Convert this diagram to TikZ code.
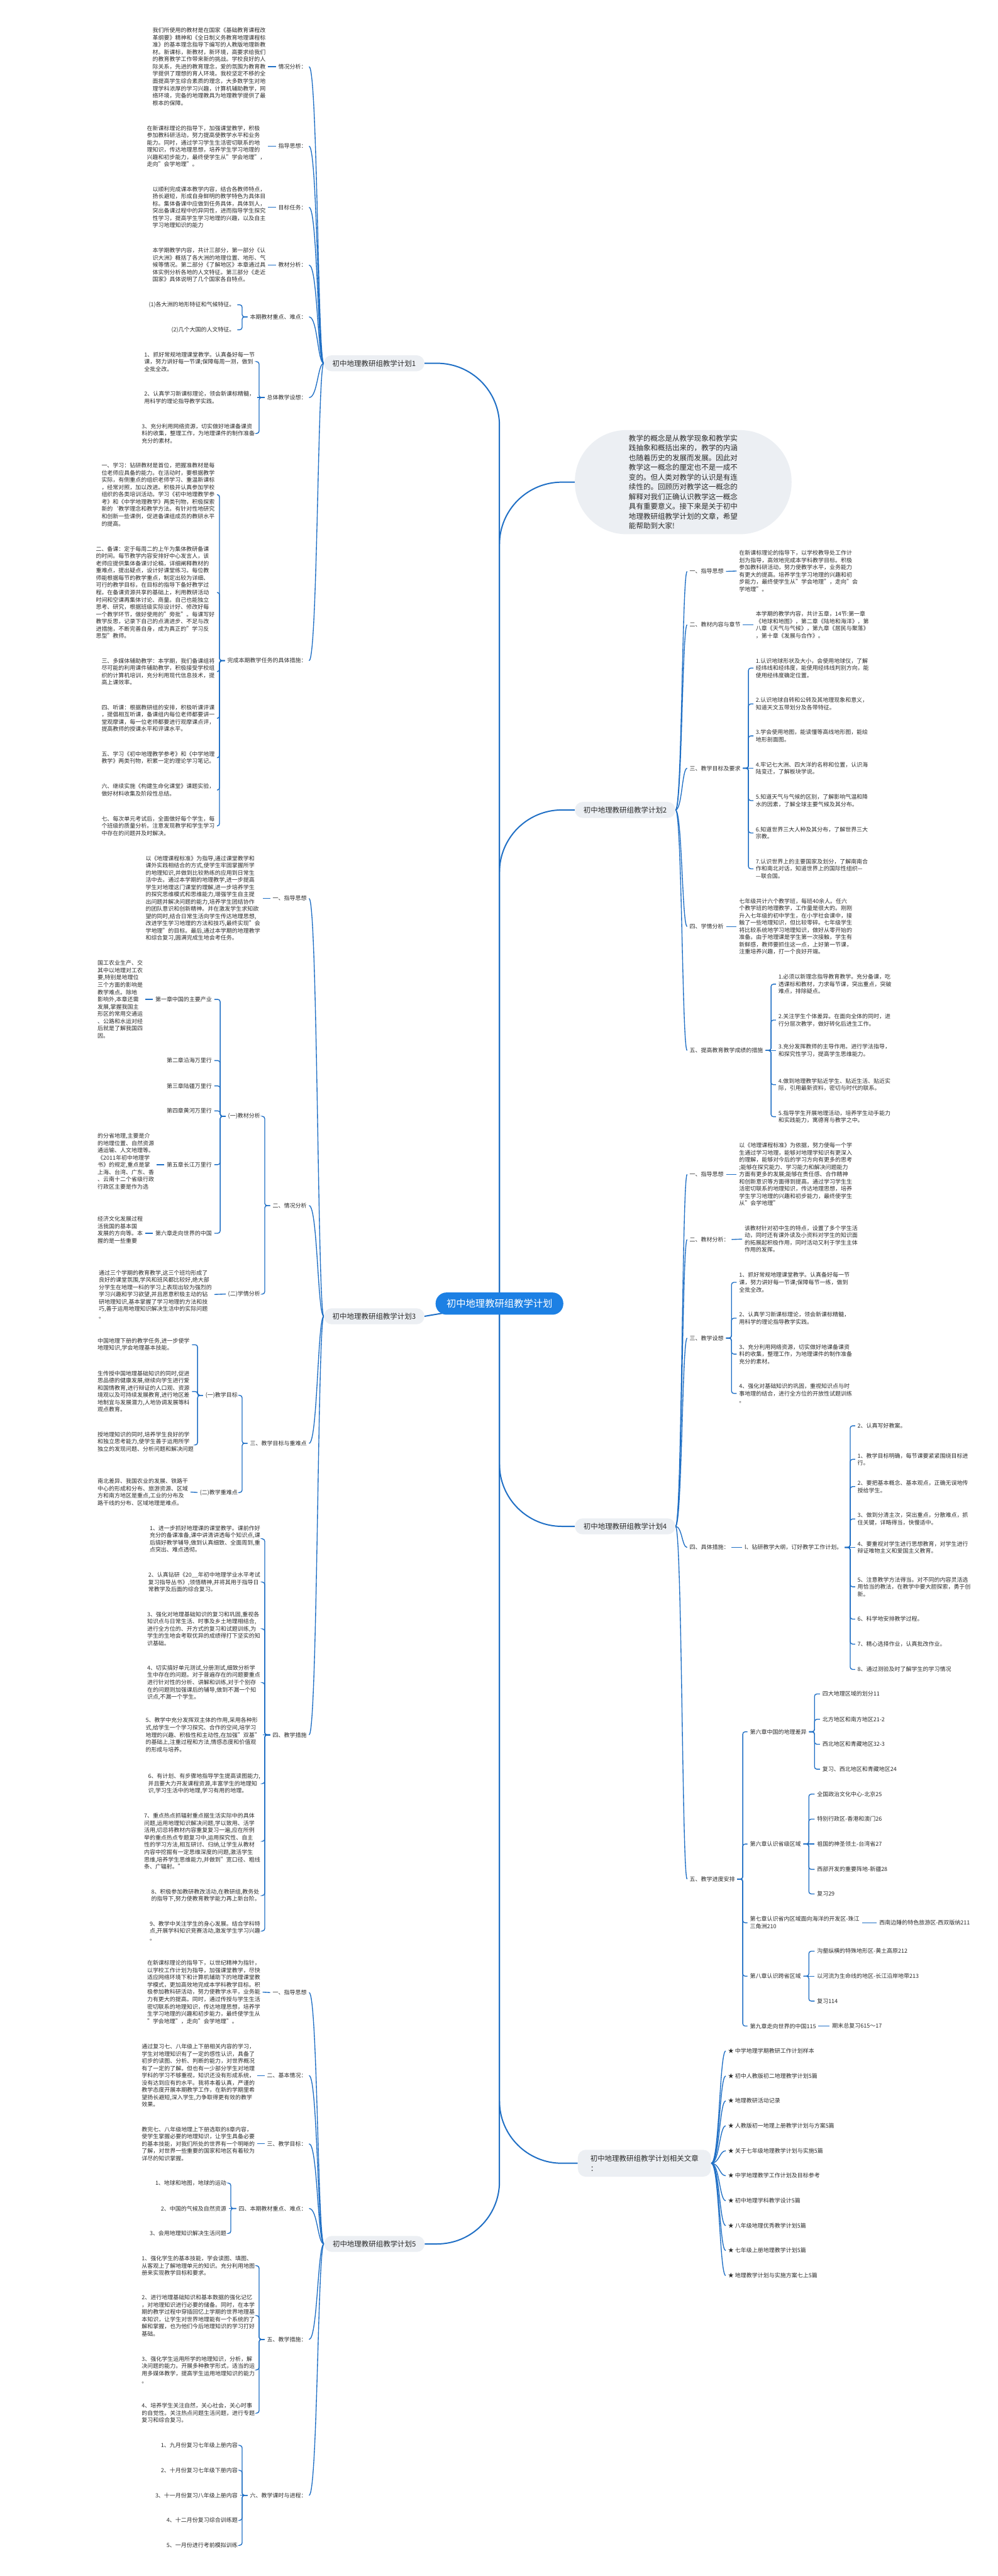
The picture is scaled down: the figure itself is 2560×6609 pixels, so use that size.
\documentclass[tikz,border=0pt]{standalone}
\usepackage{fontspec}
\setmainfont{Noto Sans CJK SC}
\usetikzlibrary{backgrounds}
\definecolor{linec}{HTML}{1F6FC5}
\definecolor{ctrc}{HTML}{1C80E4}
\definecolor{nodebg}{HTML}{ECEFF3}
\definecolor{txtc}{HTML}{2B2B2B}
\newcommand\ftxt{\fontsize{7.25pt}{9.3pt}\selectfont}
\newcommand\fbr{\fontsize{9.25pt}{12.3pt}\selectfont}
\newcommand\fctr{\fontsize{12.35pt}{14pt}\selectfont}
\newcommand\fbub{\fontsize{9.3pt}{12.5pt}\selectfont}
\tikzset{
  txt/.style={align=left, inner xsep=3pt, inner ysep=1pt, font=\ftxt, text=txtc},
  brn/.style={fill=nodebg, text=txtc, font=\fbr, rounded corners=10pt, minimum height=20.5pt, inner xsep=11pt},
  rootn/.style={fill=ctrc, text=white, font=\fctr, rounded corners=14pt, minimum height=28.5pt, inner xsep=14pt, inner ysep=2pt},
  bubn/.style={fill=nodebg, text=txtc, font=\fbub, align=left, rounded corners=66pt, minimum width=278pt, minimum height=133.5pt},
  conn/.style={draw=linec, line width=1.1pt},
  brk/.style={draw=linec, line width=1.1pt, rounded corners=3pt},
  mainc/.style={draw=linec, line width=1.6pt, rounded corners=80pt}
}
\begin{document}
\begin{tikzpicture}[x=0.5pt,y=-0.5pt]
\useasboundingbox (0,0) rectangle (2560,6609);
% ---------------- root and summary
\node[rootn] (root) at (1281.5,3344.5) {初中地理教研组教学计划};
\node[bubn] (bub) at (1753,1237) {教学的概念是从教学现象和教学实\\践抽象和概括出来的，教学的内涵\\也随着历史的发展而发展。因此对\\教学这一概念的厘定也不是一成不\\变的。但人类对教学的认识是有连\\续性的。回顾历对教学这一概念的\\解释对我们正确认识教学这一概念\\具有重要意义。接下来是关于初中\\地理教研组教学计划的文章，希望\\能帮助到大家!};
% ---------------- branch 1
\node[brn] (b1) at (960,932) {初中地理教研组教学计划1};
\coordinate (t1) at (815,932);
\node[txt,anchor=east] (a1) at (793,171) {情况分析：};
\node[txt,anchor=east] (a1t) at (688,171) {我们所使用的教材是在国家《基础教育课程改\\革纲要》精神和《全日制义务教育地理课程标\\准》的基本理念指导下编写的人教版地理新教\\材。新课标，新教材，新环境，高要求给我们\\的教育教学工作带来新的挑战。学校良好的人\\际关系，先进的教育理念，爱的氛围为教育教\\学提供了理想的育人环境。我校坚定不移的全\\面提高学生综合素质的理念，大多数学生对地\\理学科浓厚的学习兴趣，计算机辅助教学，网\\络环境，完备的地理教具为地理教学提供了最\\根本的保障。};
\node[txt,anchor=east] (a2) at (793,375) {指导思想：};
\node[txt,anchor=east] (a2t) at (688,375) {在新课标理论的指导下，加强课堂教学，积极\\参加教科研活动，努力提高使教学水平和业务\\能力。同时，通过学习学生生活密切联系的地\\理知识，传达地理思想，培养学生学习地理的\\兴趣和初步能力，最终使学生从"学会地理"，\\走向"会学地理"。};
\node[txt,anchor=east] (a3) at (793,532) {目标任务：};
\node[txt,anchor=east] (a3t) at (688,532) {以顺利完成课本教学内容，结合各教师特点，\\扬长避短，形成自身鲜明的教学特色为具体目\\标。集体备课中应做到任务具体，具体到人，\\突出备课过程中的异同性，进而指导学生探究\\性学习，提高学生学习地理的兴趣，以及自主\\学习地理知识的能力};
\node[txt,anchor=east] (a4) at (793,680) {教材分析：};
\node[txt,anchor=east] (a4t) at (688,680) {本学期教学内容，共计三部分，第一部分《认\\识大洲》概括了各大洲的地理位置、地形、气\\候等情况。第二部分《了解地区》本章通过具\\体实例分析各地的人文特征。第三部分《走近\\国家》具体说明了几个国家各自特点。};
\node[txt,anchor=east] (a5) at (793,813) {本期教材重点、难点：};
\node[txt,anchor=east] (a5a) at (609,782) {(1)各大洲的地形特征和气候特征。};
\node[txt,anchor=east] (a5b) at (609,846) {(2)几个大国的人文特征。};
\node[txt,anchor=east] (a6) at (793,1020) {总体教学设想：};
\node[txt,anchor=east] (a6a) at (660,928) {1、抓好常规地理课堂教学。认真备好每一节\\课，努力讲好每一节课;保障每周一测，做到\\全批全改。};
\node[txt,anchor=east] (a6b) at (660,1020) {2、认真学习新课标理论，领会新课标精髓，\\用科学的理论指导教学实践。};
\node[txt,anchor=east] (a6c) at (660,1112) {3、充分利用网络资源，切实做好地课备课资\\料的收集，整理工作，为地理课件的制作准备\\充分的素材。};
\node[txt,anchor=east] (a7) at (793,1695) {完成本期教学任务的具体措施：};
\node[txt,anchor=east] (a7a) at (557,1269) {一、学习：钻研教材是首位，把握准教材是每\\位老师应具备的能力。在活动时，要根据教学\\实际，有侧重点的组织老师学习、重温新课标\\，经常对照，加以改进。积极并认真参加学校\\组织的各类培训活动。学习《初中地理教学参\\考》和《中学地理教学》两类刊物，积极探索\\新的`教学理念和教学方法。有针对性地研究\\和创新一些课例，促进备课组成员的教研水平\\的提高。};
\node[txt,anchor=east] (a7b) at (557,1520) {二、备课：定于每周二的上午为集体教研备课\\的时间。每节教学内容安排好中心发言人，该\\老师应提供集体备课讨论稿，详细阐释教材的\\重难点，提出疑点，设计好课堂练习。每位教\\师能根据每节的教学重点，制定出较为详细、\\可行的教学目标，在目标的指导下备好教学过\\程。在备课资源共享的基础上，利用教研活动\\时间和空课再集体讨论、商量。自己也能独立\\思考、研究，根据班级实际设计好、修改好每\\一个教学环节，做好使用的"旁批"。每课写好\\教学反思，记录下自己的点滴进步、不足与改\\进措施，不断完善自身，成为真正的"学习反\\思型"教师。};
\node[txt,anchor=east] (a7c) at (557,1723) {三、多媒体辅助教学：本学期，我们备课组将\\尽可能的利用课件辅助教学，积极接受学校组\\织的计算机培训，充分利用现代信息技术，提\\高上课效率。};
\node[txt,anchor=east] (a7d) at (557,1843) {四、听课：根据教研组的安排，积极听课评课\\，提倡相互听课，备课组内每位老师都要讲一\\堂观摩课，每一位老师都要进行观摩课点评，\\提高教师的授课水平和评课水平。};
\node[txt,anchor=east] (a7e) at (557,1944) {五、学习《初中地理教学参考》和《中学地理\\教学》两类刊物，积累一定的理论学习笔记。};
\node[txt,anchor=east] (a7f) at (557,2027) {六、继续实施《构建生命化课堂》课题实验，\\做好材料收集及阶段性总结。};
\node[txt,anchor=east] (a7g) at (557,2119) {七、每次单元考试后，全面做好每个学生，每\\个班级的质量分析。注意发现教学和学生学习\\中存在的问题并及时解决。};
% ---------------- branch 3
\node[brn] (b3) at (960,3377) {初中地理教研组教学计划3};
\coordinate (t3) at (815,3377);
\node[txt,anchor=east] (g1) at (793,2305) {一、指导思想};
\node[txt,anchor=east] (g1t) at (674,2305) {以《地理课程标准》为指导,通过课堂教学和\\课外实践相结合的方式,使学生牢固掌握所学\\的地理知识,并做到比较熟练的应用到日常生\\活中去。通过本学期的地理教学,进一步提高\\学生对地理这门课堂的理解,进一步培养学生\\的探究思维模式和思维能力,增强学生自主提\\出问题并解决问题的能力,培养学生团结协作\\的团队意识和创新精神。并在激发学生求知欲\\望的同时,结合日常生活向学生传达地理思想,\\改进学生学习地理的方法和技巧,最终实现"会\\学地理"的目标。最后,通过本学期的地理教学\\和综合复习,圆满完成生地会考任务。};
\node[txt,anchor=east] (g2) at (793,3093) {二、情况分析};
\node[txt,anchor=east] (g2a) at (674,2864) {(一)教材分析};
\node[txt,anchor=east] (g2a1) at (550,2564) {第一章中国的主要产业};
\node[txt,anchor=west] (g2a1t) at (244,2564) {国工农业生产、交\\其中以地理对工农\\要,特别是地理位\\三个方面的影响是\\教学难点。除地\\影响外,本章还需\\发展,掌握我国主\\形区的常用交通运\\、公路和水运对经\\后就是了解我国四\\因。};
\node[txt,anchor=east] (g2a2) at (550,2721) {第二章沿海万里行};
\node[txt,anchor=east] (g2a3) at (550,2786) {第三章陆疆万里行};
\node[txt,anchor=east] (g2a4) at (550,2850) {第四章黄河万里行};
\node[txt,anchor=east] (g2a5) at (550,2988) {第五章长江万里行};
\node[txt,anchor=west] (g2a5t) at (244,2988) {的分省地理,主要是介\\的地理位置、自然资源\\通运输、人文地理等。\\《2011年初中地理学\\书》的规定,重点是掌\\上海、台湾、广东、香\\、云南十二个省级行政\\行政区主要是作为选\\};
\node[txt,anchor=east] (g2a6) at (550,3164) {第六章走向世界的中国};
\node[txt,anchor=west] (g2a6t) at (244,3164) {经济文化发展过程\\活我国的基本国\\发展的方向等。本\\握的是一些重要\\};
\node[txt,anchor=east] (g2b) at (674,3320) {(二)学情分析};
\node[txt,anchor=east] (g2bt) at (550,3321) {通过三个学期的教育教学,这三个班均形成了\\良好的课堂氛围,学风和班风都比较好,绝大部\\分学生在地理一科的学习上表现出较为强烈的\\学习兴趣和学习欲望,并且愿意积极主动的钻\\研地理知识,基本掌握了学习地理的方法和技\\巧,善于运用地理知识解决生活中的实际问题\\。};
\node[txt,anchor=east] (g3) at (793,3703) {三、教学目标与重难点};
\node[txt,anchor=east] (g3a) at (616,3580) {(一)教学目标};
\node[txt,anchor=west] (g3a1) at (244,3450) {中国地理下册的教学任务,进一步使学\\地理知识,学会地理基本技能。};
\node[txt,anchor=west] (g3a2) at (244,3570) {生传授中国地理基础知识的同时,促进\\思品德的健康发展,继续向学生进行爱\\和国情教育,进行辩证的人口观、资源\\境观以及可持续发展教育,进行地区差\\地制宜与发展潜力,人地协调发展等科\\观点教育。};
\node[txt,anchor=west] (g3a3) at (244,3707) {授地理知识的同时,培养学生良好的学\\和独立思考能力,使学生善于运用所学\\独立的发现问题、分析问题和解决问题\\};
\node[txt,anchor=east] (g3b) at (616,3829) {(二)教学重难点};
\node[txt,anchor=west] (g3bt) at (244,3828) {南北差异、我国农业的发展、铁路干\\中心的形成和分布、旅游资源、区域\\方和南方地区是重点,工业的分布及\\路干线的分布、区域地理是难点。};
\node[txt,anchor=east] (g4) at (793,4451) {四、教学措施};
\node[txt,anchor=east] (g4a) at (674,3948) {1、进一步抓好地理课的课堂教学。课前作好\\充分的备课准备,课中讲清讲透每个知识点,课\\后搞好教学辅导,做到认真细致、全面周到,重\\点突出、难点透彻。};
\node[txt,anchor=east] (g4b) at (674,4059) {2、认真钻研《20\_\_年初中地理学业水平考试\\复习指导丛书》,领悟精神,并将其用于指导日\\常教学及后面的综合复习。};
\node[txt,anchor=east] (g4c) at (674,4179) {3、强化对地理基础知识的复习和巩固,重视各\\知识点与日常生活、时事及乡土地理相结合,\\进行全方位的、开方式的复习和试题训练,为\\学生的生地会考取优异的成绩得打下坚实的知\\识基础。};
\node[txt,anchor=east] (g4d) at (674,4317) {4、切实搞好单元测试,分册测试,细致分析学\\生中存在的问题。对于普遍存在的问题要重点\\进行针对性的分析、讲解和训练,对于个别存\\在的问题则加强课后的辅导,做到不漏一个知\\识点,不漏一个学生。};
\node[txt,anchor=east] (g4e) at (674,4451) {5、教学中充分发挥双主体的作用,采用各种形\\式,给学生一个学习探究、合作的空间,培学习\\地理的兴趣、积极性和主动性,在加强"双基"\\的基础上,注重过程和方法,情感态度和价值观\\的形成与培养。};
\node[txt,anchor=east] (g4f) at (674,4576) {6、有计划、有步骤地指导学生提高读图能力,\\并且要大力开发课程资源,丰富学生的地理知\\识,学习生活中的地理,学习有用的地理。};
\node[txt,anchor=east] (g4g) at (674,4724) {7、重点热点抓辐射重点据生活实际中的具体\\问题,运用地理知识解决问题,学以致用、活学\\活用,切忌将教材内容重复复习一遍,应在所例\\举的重点热点专题复习中,运用探究性、自主\\性的学习方法,相互研讨、归纳,让学生从教材\\内容中挖掘有一定思维深度的问题,激活学生\\思维,培养学生思维能力,并做到"宽口径、粗线\\条、广辐射。"};
\node[txt,anchor=east] (g4h) at (674,4863) {8、积极参加教研教改活动,在教研组,教务处\\的指导下,努力使教育教学能力再上新台阶。};
\node[txt,anchor=east] (g4i) at (674,4954) {9、教学中关注学生的身心发展。结合学科特\\点,开展学科知识竞赛活动,激发学生学习兴趣\\。};
% ---------------- branch 5
\node[brn] (b5) at (960.5,5757) {初中地理教研组教学计划5};
\coordinate (t5) at (815,5757);
\node[txt,anchor=east] (h1) at (793,5112) {一、指导思想};
\node[txt,anchor=east] (h1t) at (674,5111) {在新课标理论的指导下，以世纪精神为指针，\\以学校工作计划为指导，加强课堂教学，尽快\\适应网络环境下和计算机辅助下的地理课堂教\\学模式，更加高效地完成本学科教学目标。积\\极参加教科研活动，努力使教学水平，业务能\\力有更大的提高。同时，通过传授与学生生活\\密切联系的地理知识，传达地理思想，培养学\\生学习地理的兴趣和初步能力，最终使学生从\\"学会地理"，走向"会学地理"。};
\node[txt,anchor=east] (h2) at (793,5325) {二、基本情况：};
\node[txt,anchor=east] (h2t) at (660,5325) {通过复习七、八年级上下册相关内容的学习，\\学生对地理知识有了一定的感性认识，具备了\\初步的读图、分析、判断的能力，对世界概况\\有了一定的了解。但也有一少部分学生对地理\\学科的学习不够重视，知识还没有形成系统，\\没有达到应有的水平。我将本着认真，严谨的\\教学态度开展本期教学工作，在新的学期里希\\望扬长避短,深入学生,力争取得更有效的教学\\效果。};
\node[txt,anchor=east] (h3) at (793,5500) {三、教学目标：};
\node[txt,anchor=east] (h3t) at (660,5500) {教完七、八年级地理上下册选取的8章内容，\\使学生掌握必要的地理知识，让学生具备必要\\的基本技能，对我们所处的世界有一个明晰的\\了解，对世界一些重要的国家和地区有着较为\\详尽的知识掌握。};
\node[txt,anchor=east] (h4) at (793,5666) {四、本期教材重点、难点：};
\node[txt,anchor=east] (h4a) at (587,5601) {1、地球和地图，地球的运动};
\node[txt,anchor=east] (h4b) at (587,5666) {2、中国的气候及自然资源};
\node[txt,anchor=east] (h4c) at (587,5730) {3、会用地理知识解决生活问题};
\node[txt,anchor=east] (h5) at (793,6002) {五、教学措施：};
\node[txt,anchor=east] (h5a) at (660,5813) {1、强化学生的基本技能，学会读图、填图、\\从客观上了解地理单元的知识。充分利用地图\\册来实现教学目标和要求。};
\node[txt,anchor=east] (h5b) at (660,5941) {2、进行地理基础知识和基本数据的强化记忆\\，对地理知识进行必要的储备。同时，在本学\\期的教学过程中穿插回忆上学期的世界地理基\\本知识，让学生对世界地理能有一个系统的了\\解和掌握，也为他们今后地理知识的学习打好\\基础。};
\node[txt,anchor=east] (h5c) at (660,6080) {3、强化学生运用所学的地理知识，分析，解\\决问题的能力。开展多种教学形式，适当的运\\用多媒体教学，提高学生运用地理知识的能力\\。};
\node[txt,anchor=east] (h5d) at (660,6191) {4、培养学生关注自然，关心社会，关心时事\\的自觉性。关注热点问题生活问题，进行专题\\复习和综合复习。};
\node[txt,anchor=east] (h6) at (793,6402) {六、教学课时与进程：};
\node[txt,anchor=east] (h6a) at (616,6274) {1、九月份复习七年级上册内容};
\node[txt,anchor=east] (h6b) at (616,6338) {2、十月份复习七年级下册内容};
\node[txt,anchor=east] (h6c) at (616,6402) {3、十一月份复习八年级上册内容};
\node[txt,anchor=east] (h6d) at (616,6466) {4、十二月份复习综合训练题};
\node[txt,anchor=east] (h6e) at (616,6530) {5、一月份进行考前模拟训练};
% ---------------- branch 2
\node[brn] (b2) at (1604,2078) {初中地理教研组教学计划2};
\coordinate (t2) at (1750,2078);
\node[txt,anchor=west] (r1) at (1763,1466) {一、指导思想};
\node[txt,anchor=west] (r1t) at (1890,1465) {在新课标理论的指导下，以学校教导处工作计\\划为指导，高效地完成本学科教学目标。积极\\参加教科研活动，努力使教学水平，业务能力\\有更大的提高。培养学生学习地理的兴趣和初\\步能力，最终使学生从"学会地理"，走向"会\\学地理"。};
\node[txt,anchor=west] (r2) at (1763,1603) {二、教材内容与章节};
\node[txt,anchor=west] (r2t) at (1933,1603) {本学期的教学内容，共计五章，14节:第一章\\《地球和地图》，第二章《陆地和海洋》，第\\八章《天气与气候》，第九章《居民与聚落》\\，第十章《发展与合作》。};
\node[txt,anchor=west] (r3) at (1763,1971) {三、教学目标及要求};
\node[txt,anchor=west] (r3a) at (1933,1714) {1.认识地球形状及大小，会使用地球仪，了解\\经纬线和经纬度，能使用经纬线判别方向，能\\使用经纬度确定位置。};
\node[txt,anchor=west] (r3b) at (1933,1806) {2.认识地球自转和公转及其地理现象和意义，\\知道天文五带划分及各带特征。};
\node[txt,anchor=west] (r3c) at (1933,1888) {3.学会使用地图，能读懂等高线地形图，能绘\\地形剖面图。};
\node[txt,anchor=west] (r3d) at (1933,1971) {4.牢记七大洲、四大洋的名称和位置，认识海\\陆变迁，了解板块学说。};
\node[txt,anchor=west] (r3e) at (1933,2054) {5.知道天气与气候的区别，了解影响气温和降\\水的因素，了解全球主要气候及其分布。};
\node[txt,anchor=west] (r3f) at (1933,2137) {6.知道世界三大人种及其分布，了解世界三大\\宗教。};
\node[txt,anchor=west] (r3g) at (1933,2229) {7.认识世界上的主要国家及划分，了解南南合\\作和南北对话，知道世界上的国际性组织—\\—联合国。};
\node[txt,anchor=west] (r4) at (1763,2377) {四、学情分析};
\node[txt,anchor=west] (r4t) at (1890,2377) {七年级共计六个教学班，每班40余人。任六\\个教学班的地理教学，工作量是很大的。刚刚\\升入七年级的初中学生，在小学社会课中，接\\触了一些地理知识，但比较零碎。七年级学生\\将比较系统地学习地理知识，做好从零开始的\\准备。由于地理课是学生第一次接触，学生有\\新鲜感，教师要抓住这一点，上好第一节课，\\注重培养兴趣，打一个良好开端。};
\node[txt,anchor=west] (r5) at (1763,2695) {五、提高教育教学成绩的措施};
\node[txt,anchor=west] (r5a) at (1991,2525) {1.必须以新理念指导教育教学。充分备课，吃\\透课标和教材，力求每节课，突出重点，突破\\难点，排除疑点。};
\node[txt,anchor=west] (r5b) at (1991,2617) {2.关注学生个体差异。在面向全体的同时，进\\行分层次教学，做好转化后进生工作。};
\node[txt,anchor=west] (r5c) at (1991,2695) {3.充分发挥教师的主导作用。进行学法指导，\\和探究性学习，提高学生思维能力。};
\node[txt,anchor=west] (r5d) at (1991,2783) {4.做到地理教学贴近学生、贴近生活、贴近实\\际，引用最新资料，密切与时代的联系。};
\node[txt,anchor=west] (r5e) at (1991,2865) {5.指导学生开展地理活动，培养学生动手能力\\和实践能力，寓德育与教学之中。};
% ---------------- branch 4
\node[brn] (b4) at (1604,3916) {初中地理教研组教学计划4};
\coordinate (t4) at (1750,3916);
\node[txt,anchor=west] (s1) at (1763,3013) {一、指导思想};
\node[txt,anchor=west] (s1t) at (1890,3013) {以《地理课程标准》为依据，努力使每一个学\\生通过学习地理，能够对地理学知识有更深入\\的理解，能够对今后的学习方向有更多的思考\\;能够在探究能力、学习能力和解决问题能力\\方面有更多的发展;能够在责任感、合作精神\\和创新意识等方面得到提高。通过学习学生生\\活密切联系的地理知识，传达地理思想，培养\\学生学习地理的兴趣和初步能力，最终使学生\\从"会学地理"};
\node[txt,anchor=west] (s2) at (1763,3180) {二、教材分析：};
\node[txt,anchor=west] (s2t) at (1904,3179) {该教材针对初中生的特点，设置了多个学生活\\动，同时还有课外读及小资料对学生的知识面\\的拓展起积极作用，同时活动又利于学生主体\\作用的发挥。};
\node[txt,anchor=west] (s3) at (1763,3433) {三、教学设想};
\node[txt,anchor=west] (s3a) at (1890,3290) {1、抓好常规地理课堂教学。认真备好每一节\\课，努力讲好每一节课;保障每节一练，做到\\全批全改。};
\node[txt,anchor=west] (s3b) at (1890,3382) {2、认真学习新课标理论，领会新课标精髓，\\用科学的理论指导教学实践。};
\node[txt,anchor=west] (s3c) at (1890,3474) {3、充分利用网络资源，切实做好地课备课资\\料的收集，整理工作，为地理课件的制作准备\\充分的素材。};
\node[txt,anchor=west] (s3d) at (1890,3575) {4、强化对基础知识的巩固，重视知识点与时\\事地理的结合，进行全方位的开放性试题训练\\。};
\node[txt,anchor=west] (s4) at (1763,3970) {四、具体措施：};
\node[txt,anchor=west] (s4a) at (1904,3970) {l、钻研教学大纲，订好教学工作计划。};
\node[txt,anchor=west] (s4a1) at (2194,3658) {2、认真写好教案。};
\node[txt,anchor=west] (s4a2) at (2194,3744) {1、教学目标明确，每节课要紧紧围绕目标进\\行。};
\node[txt,anchor=west] (s4a3) at (2194,3814) {2、要把基本概念、基本观点，正确无误地传\\授给学生。};
\node[txt,anchor=west] (s4a4) at (2194,3897) {3、做到分清主次，突出重点，分散难点，抓\\住关键，详略得当，快慢适中。};
\node[txt,anchor=west] (s4a5) at (2194,3970) {4、要重视对学生进行思想教育，对学生进行\\辩证唯物主义和爱国主义教育。};
\node[txt,anchor=west] (s4a6) at (2194,4071) {5、注意教学方法得当。对不同的内容灵活选\\用恰当的教法，在教学中要大胆探索，勇于创\\新。};
\node[txt,anchor=west] (s4a7) at (2194,4154) {6、科学地安排教学过程。};
\node[txt,anchor=west] (s4a8) at (2194,4218) {7、精心选择作业，认真批改作业。};
\node[txt,anchor=west] (s4a9) at (2194,4283) {8、通过测验及时了解学生的学习情况};
\node[txt,anchor=west] (s5) at (1763,4821) {五、教学进度安排};
\node[txt,anchor=west] (s5a) at (1918,4443) {第六章中国的地理差异};
\node[txt,anchor=west] (s5a1) at (2104,4346) {四大地理区域的划分11};
\node[txt,anchor=west] (s5a2) at (2104,4411) {北方地区和南方地区21-2};
\node[txt,anchor=west] (s5a3) at (2104,4475) {西北地区和青藏地区32-3};
\node[txt,anchor=west] (s5a4) at (2104,4539) {复习、西北地区和青藏地区24};
\node[txt,anchor=west] (s5b) at (1918,4731) {第六章认识省级区域};
\node[txt,anchor=west] (s5b1) at (2090,4603) {全国政治文化中心-北京25};
\node[txt,anchor=west] (s5b2) at (2090,4667) {特别行政区-香港和澳门26};
\node[txt,anchor=west] (s5b3) at (2090,4731) {祖国的神圣领土-台湾省27};
\node[txt,anchor=west] (s5b4) at (2090,4796) {西部开发的重要阵地-新疆28};
\node[txt,anchor=west] (s5b5) at (2090,4859) {复习29};
\node[txt,anchor=west] (s5c) at (1918,4933) {第七章认识省内区域面向海洋的开发区-珠江\\三角洲210};
\node[txt,anchor=west] (s5c1) at (2250,4933) {西南边陲的特色旅游区-西双版纳211};
\node[txt,anchor=west] (s5d) at (1918,5070) {第八章认识跨省区域};
\node[txt,anchor=west] (s5d1) at (2090,5006) {沟壑纵横的特殊地形区-黄土高原212};
\node[txt,anchor=west] (s5d2) at (2090,5070) {以河流为生命线的地区-长江沿岸地带213};
\node[txt,anchor=west] (s5d3) at (2090,5134) {复习114};
\node[txt,anchor=west] (s5e) at (1918,5198) {第九章走向世界的中国115};
\node[txt,anchor=west] (s5e1) at (2129,5198) {期末总复习615～17};
% ---------------- related articles
\node[brn, align=left, inner xsep=16pt, minimum height=34.5pt] (b6) at (1653.5,5550) {初中地理教研组教学计划相关文章\\：};
\coordinate (t6) at (1846,5550);
\node[txt,anchor=west] (u1) at (1862,5262) {★ 中学地理学期教研工作计划样本};
\node[txt,anchor=west] (u2) at (1862,5326) {★ 初中人教版初二地理教学计划5篇};
\node[txt,anchor=west] (u3) at (1862,5390) {★ 地理教研活动记录};
\node[txt,anchor=west] (u4) at (1862,5454) {★ 人教版初一地理上册教学计划与方案5篇};
\node[txt,anchor=west] (u5) at (1862,5518) {★ 关于七年级地理教学计划与实施5篇};
\node[txt,anchor=west] (u6) at (1862,5582) {★ 中学地理教学工作计划及目标参考};
\node[txt,anchor=west] (u7) at (1862,5646) {★ 初中地理学科教学设计5篇};
\node[txt,anchor=west] (u8) at (1862,5710) {★ 八年级地理优秀教学计划5篇};
\node[txt,anchor=west] (u9) at (1862,5774) {★ 七年级上册地理教学计划5篇};
\node[txt,anchor=west] (u10) at (1862,5838) {★ 地理教学计划与实施方案七上5篇};
% ================= connectors
\begin{pgfonlayer}{background}
\fill[white] (0,0) rectangle (2560,6609);
\draw[mainc] (root.center) |- (b1.east);
\draw[mainc] (root.center) |- (bub.west);
\draw[mainc] (root.center) |- (b2.west);
\draw[conn, line width=1.6pt] (root.center) -- (b3.east);
\draw[mainc] (root.center) |- (b4.west);
\draw[mainc] (root.center) |- (b5.east);
\draw[mainc] (root.center) |- (b6.west);
% branch 1
\foreach \n in {a1,a2,a3,a4,a5,a6,a7} \draw[conn] (b1.west) .. controls (t1) and (t1 |- \n.east) .. (\n.east);
\foreach \p/\c in {a1/a1t,a2/a2t,a3/a3t,a4/a4t} \draw[conn] (\p.west) -- (\c.east);
\foreach \c in {a5a,a5b} \draw[brk] (a5.west) -- ++(-14,0) |- (\c.east);
\foreach \c in {a6a,a6c} \draw[brk] (a6.west) -- ++(-14,0) |- (\c.east);
\draw[conn] (a6.west) -- (a6b.east);
\foreach \c in {a7a,a7b,a7c,a7d,a7e,a7f,a7g} \draw[brk] (a7.west) -- ++(-14,0) |- (\c.east);
% branch 3
\foreach \n in {g1,g2,g3,g4} \draw[conn] (b3.west) .. controls (t3) and (t3 |- \n.east) .. (\n.east);
\draw[conn] (g1.west) -- (g1t.east);
\foreach \c in {g2a,g2b} \draw[brk] (g2.west) -- ++(-14,0) |- (\c.east);
\foreach \c in {g2a1,g2a2,g2a3,g2a4,g2a5,g2a6} \draw[brk] (g2a.west) -- ++(-14,0) |- (\c.east);
\foreach \p/\c in {g2a1/g2a1t,g2a5/g2a5t,g2a6/g2a6t,g2b/g2bt,g3b/g3bt} \draw[conn] (\p.west) -- (\c.east);
\foreach \c in {g3a,g3b} \draw[brk] (g3.west) -- ++(-14,0) |- (\c.east);
\foreach \c in {g3a1,g3a2,g3a3} \draw[brk] (g3a.west) -- ++(-14,0) |- (\c.east);
\foreach \c in {g4a,g4b,g4c,g4d,g4f,g4g,g4h,g4i} \draw[brk] (g4.west) -- ++(-14,0) |- (\c.east);
\draw[conn] (g4.west) -- (g4e.east);
% branch 5
\foreach \n in {h1,h2,h3,h4,h5,h6} \draw[conn] (b5.west) .. controls (t5) and (t5 |- \n.east) .. (\n.east);
\foreach \p/\c in {h1/h1t,h2/h2t,h3/h3t} \draw[conn] (\p.west) -- (\c.east);
\foreach \c in {h4a,h4c} \draw[brk] (h4.west) -- ++(-14,0) |- (\c.east);
\draw[conn] (h4.west) -- (h4b.east);
\foreach \c in {h5a,h5b,h5c,h5d} \draw[brk] (h5.west) -- ++(-14,0) |- (\c.east);
\foreach \c in {h6a,h6b,h6d,h6e} \draw[brk] (h6.west) -- ++(-14,0) |- (\c.east);
\draw[conn] (h6.west) -- (h6c.east);
% branch 2
\foreach \n in {r1,r2,r3,r4,r5} \draw[conn] (b2.east) .. controls (t2) and (t2 |- \n.west) .. (\n.west);
\foreach \p/\c in {r1/r1t,r2/r2t,r4/r4t} \draw[conn] (\p.east) -- (\c.west);
\foreach \c in {r3a,r3b,r3c,r3e,r3f,r3g} \draw[brk] (r3.east) -- ++(14,0) |- (\c.west);
\draw[conn] (r3.east) -- (r3d.west);
\foreach \c in {r5a,r5b,r5d,r5e} \draw[brk] (r5.east) -- ++(14,0) |- (\c.west);
\draw[conn] (r5.east) -- (r5c.west);
% branch 4
\foreach \n in {s1,s2,s3,s4,s5} \draw[conn] (b4.east) .. controls (t4) and (t4 |- \n.west) .. (\n.west);
\foreach \p/\c in {s1/s1t,s2/s2t,s4/s4a,s5c/s5c1,s5e/s5e1} \draw[conn] (\p.east) -- (\c.west);
\foreach \c in {s3a,s3b,s3c,s3d} \draw[brk] (s3.east) -- ++(14,0) |- (\c.west);
\foreach \c in {s4a1,s4a2,s4a3,s4a4,s4a6,s4a7,s4a8,s4a9} \draw[brk] (s4a.east) -- ++(14,0) |- (\c.west);
\draw[conn] (s4a.east) -- (s4a5.west);
\foreach \c in {s5a,s5b,s5c,s5d,s5e} \draw[brk] (s5.east) -- ++(14,0) |- (\c.west);
\foreach \c in {s5a1,s5a2,s5a3,s5a4} \draw[brk] (s5a.east) -- ++(14,0) |- (\c.west);
\foreach \c in {s5b1,s5b2,s5b4,s5b5} \draw[brk] (s5b.east) -- ++(14,0) |- (\c.west);
\draw[conn] (s5b.east) -- (s5b3.west);
\foreach \c in {s5d1,s5d3} \draw[brk] (s5d.east) -- ++(14,0) |- (\c.west);
\draw[conn] (s5d.east) -- (s5d2.west);
% related
\foreach \n in {u1,u2,u3,u4,u5,u6,u7,u8,u9,u10} \draw[conn] (b6.east) .. controls (t6) and (t6 |- \n.west) .. (\n.west);
\end{pgfonlayer}
\end{tikzpicture}
\end{document}
